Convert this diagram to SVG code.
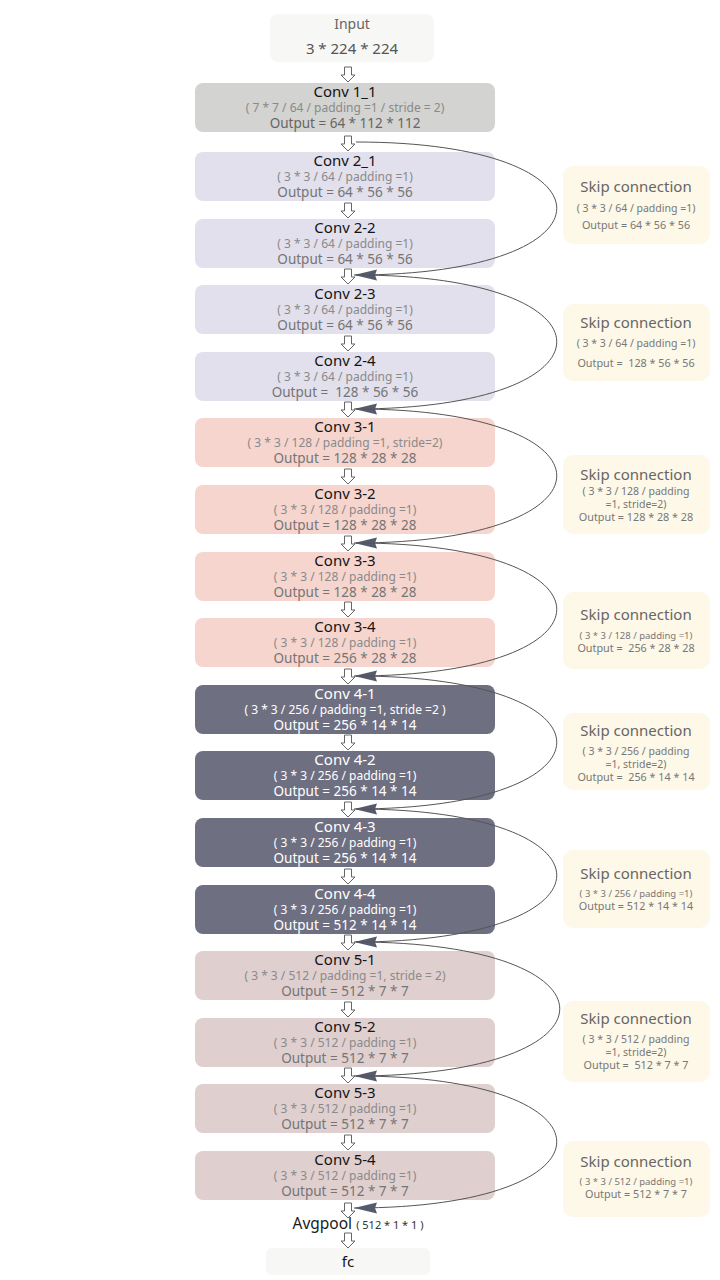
<svg xmlns="http://www.w3.org/2000/svg" width="720" height="1280" viewBox="0 0 720 1280">
<style>
text{font-family:"Noto Sans","Open Sans","DejaVu Sans",sans-serif;text-anchor:middle}
.t{font-size:15px;fill:#141414}
.d{font-size:12px;fill:#8a8a8a}
.o{font-size:13.5px;fill:#757575}
.dk .t,.dk .d,.dk .o{fill:#ffffff}
.c1{fill:#d3d3d1}.c2{fill:#e1e0ec}.c3{fill:#f5d5ce}.c4{fill:#6f6f82}.c5{fill:#e0cfcf}
.lt{fill:#f7f7f5}
.sk{fill:#fdf8e8}
.st{font-size:15px;fill:#666}
.sd{font-size:10.5px;fill:#777}
.ss{font-size:9.5px;fill:#777}
.so{font-size:10.8px;fill:#777}
.cv{fill:none;stroke:#555;stroke-width:1}
.ar{fill:#fff;stroke:#666;stroke-width:1}
</style>
<defs>
<marker id="ah" markerUnits="userSpaceOnUse" markerWidth="28" markerHeight="16" refX="25" refY="8" orient="auto">
<path d="M25,8 L2,2.5 L4,8 L2,13.5 z" fill="#555a6c"/>
</marker>
<path id="da" d="M-3.5,0 h7 v8 h3.5 l-7,7 l-7,-7 h3.5 z"/>
</defs>

<g id="input"><rect class="lt" x="270" y="14" width="164" height="48" rx="8"/>
<text x="352" y="29" style="font-size:14px;fill:#666">Input</text>
<text x="352" y="54" style="font-size:15px;fill:#555">3 * 224 * 224</text></g>

<g id="conv1_1"><rect class="c1" x="195" y="83" width="300" height="49" rx="8"/>
<text class="t" x="345" y="97">Conv 1_1</text>
<text class="d" x="345" y="112">( 7 * 7 / 64 / padding =1 / stride = 2)</text>
<text class="o" x="345" y="128" style="fill:#666">Output = 64 * 112 * 112</text></g>

<g id="conv2_1"><rect class="c2" x="195" y="152" width="300" height="49" rx="8"/>
<text class="t" x="345" y="166">Conv 2_1</text>
<text class="d" x="345" y="181">( 3 * 3 / 64 / padding =1)</text>
<text class="o" x="345" y="197">Output = 64 * 56 * 56</text></g>

<g id="conv2_2"><rect class="c2" x="195" y="219" width="300" height="49" rx="8"/>
<text class="t" x="345" y="233">Conv 2-2</text>
<text class="d" x="345" y="248">( 3 * 3 / 64 / padding =1)</text>
<text class="o" x="345" y="264">Output = 64 * 56 * 56</text></g>

<g id="conv2_3"><rect class="c2" x="195" y="285" width="300" height="49" rx="8"/>
<text class="t" x="345" y="299">Conv 2-3</text>
<text class="d" x="345" y="314">( 3 * 3 / 64 / padding =1)</text>
<text class="o" x="345" y="330">Output = 64 * 56 * 56</text></g>

<g id="conv2_4"><rect class="c2" x="195" y="352" width="300" height="49" rx="8"/>
<text class="t" x="345" y="366">Conv 2-4</text>
<text class="d" x="345" y="381">( 3 * 3 / 64 / padding =1)</text>
<text class="o" x="345" y="397" xml:space="preserve">Output =  128 * 56 * 56</text></g>

<g id="conv3_1"><rect class="c3" x="195" y="418" width="300" height="49" rx="8"/>
<text class="t" x="345" y="432">Conv 3-1</text>
<text class="d" x="345" y="447">( 3 * 3 / 128 / padding =1, stride=2)</text>
<text class="o" x="345" y="463">Output = 128 * 28 * 28</text></g>

<g id="conv3_2"><rect class="c3" x="195" y="485" width="300" height="49" rx="8"/>
<text class="t" x="345" y="499">Conv 3-2</text>
<text class="d" x="345" y="514">( 3 * 3 / 128 / padding =1)</text>
<text class="o" x="345" y="530">Output = 128 * 28 * 28</text></g>

<g id="conv3_3"><rect class="c3" x="195" y="552" width="300" height="49" rx="8"/>
<text class="t" x="345" y="566">Conv 3-3</text>
<text class="d" x="345" y="581">( 3 * 3 / 128 / padding =1)</text>
<text class="o" x="345" y="597">Output = 128 * 28 * 28</text></g>

<g id="conv3_4"><rect class="c3" x="195" y="618" width="300" height="49" rx="8"/>
<text class="t" x="345" y="632">Conv 3-4</text>
<text class="d" x="345" y="647">( 3 * 3 / 128 / padding =1)</text>
<text class="o" x="345" y="663">Output = 256 * 28 * 28</text></g>

<g id="conv4_1" class="dk"><rect class="c4" x="195" y="685" width="300" height="49" rx="8"/>
<text class="t" x="345" y="699">Conv 4-1</text>
<text class="d" x="345" y="714">( 3 * 3 / 256 / padding =1, stride =2 )</text>
<text class="o" x="345" y="730">Output = 256 * 14 * 14</text></g>

<g id="conv4_2" class="dk"><rect class="c4" x="195" y="751" width="300" height="49" rx="8"/>
<text class="t" x="345" y="765">Conv 4-2</text>
<text class="d" x="345" y="780">( 3 * 3 / 256 / padding =1)</text>
<text class="o" x="345" y="796">Output = 256 * 14 * 14</text></g>

<g id="conv4_3" class="dk"><rect class="c4" x="195" y="818" width="300" height="49" rx="8"/>
<text class="t" x="345" y="832">Conv 4-3</text>
<text class="d" x="345" y="847">( 3 * 3 / 256 / padding =1)</text>
<text class="o" x="345" y="863">Output = 256 * 14 * 14</text></g>

<g id="conv4_4" class="dk"><rect class="c4" x="195" y="885" width="300" height="49" rx="8"/>
<text class="t" x="345" y="899">Conv 4-4</text>
<text class="d" x="345" y="914">( 3 * 3 / 256 / padding =1)</text>
<text class="o" x="345" y="930">Output = 512 * 14 * 14</text></g>

<g id="conv5_1"><rect class="c5" x="195" y="951" width="300" height="49" rx="8"/>
<text class="t" x="345" y="965">Conv 5-1</text>
<text class="d" x="345" y="980">( 3 * 3 / 512 / padding =1, stride = 2)</text>
<text class="o" x="345" y="996">Output = 512 * 7 * 7</text></g>

<g id="conv5_2"><rect class="c5" x="195" y="1018" width="300" height="49" rx="8"/>
<text class="t" x="345" y="1032">Conv 5-2</text>
<text class="d" x="345" y="1047">( 3 * 3 / 512 / padding =1)</text>
<text class="o" x="345" y="1063">Output = 512 * 7 * 7</text></g>

<g id="conv5_3"><rect class="c5" x="195" y="1084" width="300" height="49" rx="8"/>
<text class="t" x="345" y="1098">Conv 5-3</text>
<text class="d" x="345" y="1113">( 3 * 3 / 512 / padding =1)</text>
<text class="o" x="345" y="1129">Output = 512 * 7 * 7</text></g>

<g id="conv5_4"><rect class="c5" x="195" y="1151" width="300" height="49" rx="8"/>
<text class="t" x="345" y="1165">Conv 5-4</text>
<text class="d" x="345" y="1180">( 3 * 3 / 512 / padding =1)</text>
<text class="o" x="345" y="1196">Output = 512 * 7 * 7</text></g>

<g id="avgpool"><text x="358" y="1229" style="font-size:15.5px;fill:#1a1a1a">Avgpool <tspan style="font-size:11px;fill:#333">( 512 * 1 * 1 )</tspan></text></g>

<g id="fc"><rect class="lt" x="266" y="1248" width="164" height="27" rx="6"/>
<text class="t" x="348" y="1267">fc</text></g>

<g id="skip1"><rect class="sk" x="563" y="166" width="147" height="78" rx="10"/>
<text class="st" x="636" y="192">Skip connection</text>
<text class="sd" x="636" y="212">( 3 * 3 / 64 / padding =1)</text>
<text class="so" x="636" y="229">Output = 64 * 56 * 56</text></g>

<g id="skip2"><rect class="sk" x="563" y="304" width="147" height="77" rx="10"/>
<text class="st" x="636" y="328">Skip connection</text>
<text class="sd" x="636" y="347">( 3 * 3 / 64 / padding =1)</text>
<text class="so" x="636" y="367" xml:space="preserve">Output =  128 * 56 * 56</text></g>

<g id="skip3"><rect class="sk" x="563" y="455" width="147" height="79" rx="10"/>
<text class="st" x="636" y="480">Skip connection</text>
<text class="sd" x="636" y="495">( 3 * 3 / 128 / padding</text>
<text class="sd" x="636" y="508">=1, stride=2)</text>
<text class="so" x="636" y="521">Output = 128 * 28 * 28</text></g>

<g id="skip4"><rect class="sk" x="563" y="592" width="147" height="77" rx="10"/>
<text class="st" x="636" y="620">Skip connection</text>
<text class="ss" x="636" y="639">( 3 * 3 / 128 / padding =1)</text>
<text class="so" x="636" y="652" xml:space="preserve">Output =  256 * 28 * 28</text></g>

<g id="skip5"><rect class="sk" x="563" y="713" width="147" height="77" rx="10"/>
<text class="st" x="636" y="736">Skip connection</text>
<text class="sd" x="636" y="755">( 3 * 3 / 256 / padding</text>
<text class="sd" x="636" y="768">=1, stride=2)</text>
<text class="so" x="636" y="781" xml:space="preserve">Output =  256 * 14 * 14</text></g>

<g id="skip6"><rect class="sk" x="563" y="850" width="147" height="78" rx="10"/>
<text class="st" x="636" y="879">Skip connection</text>
<text class="ss" x="636" y="897">( 3 * 3 / 256 / padding =1)</text>
<text class="so" x="636" y="910">Output = 512 * 14 * 14</text></g>

<g id="skip7"><rect class="sk" x="563" y="1001" width="147" height="81" rx="10"/>
<text class="st" x="636" y="1024">Skip connection</text>
<text class="sd" x="636" y="1043">( 3 * 3 / 512 / padding</text>
<text class="sd" x="636" y="1056">=1, stride=2)</text>
<text class="so" x="636" y="1069" xml:space="preserve">Output =  512 * 7 * 7</text></g>

<g id="skip8"><rect class="sk" x="563" y="1141" width="147" height="76" rx="10"/>
<text class="st" x="636" y="1167">Skip connection</text>
<text class="ss" x="636" y="1185">( 3 * 3 / 512 / padding =1)</text>
<text class="so" x="636" y="1198">Output = 512 * 7 * 7</text></g>

<g id="connectors">
<use href="#da" class="ar" x="348" y="67"/>
<use href="#da" class="ar" x="348" y="136"/>
<use href="#da" class="ar" x="348" y="203"/>
<use href="#da" class="ar" x="348" y="269"/>
<use href="#da" class="ar" x="348" y="336"/>
<use href="#da" class="ar" x="348" y="402"/>
<use href="#da" class="ar" x="348" y="469"/>
<use href="#da" class="ar" x="348" y="536"/>
<use href="#da" class="ar" x="348" y="602"/>
<use href="#da" class="ar" x="348" y="669"/>
<use href="#da" class="ar" x="348" y="735"/>
<use href="#da" class="ar" x="348" y="802"/>
<use href="#da" class="ar" x="348" y="869"/>
<use href="#da" class="ar" x="348" y="935"/>
<use href="#da" class="ar" x="348" y="1002"/>
<use href="#da" class="ar" x="348" y="1068"/>
<use href="#da" class="ar" x="348" y="1135"/>
<use href="#da" class="ar" x="348" y="1203"/>
<use href="#da" class="ar" x="348" y="1233"/>
<path class="cv" marker-end="url(#ah)" d="M356,142 C624,142 624,275 354,275"/>
<path class="cv" marker-end="url(#ah)" d="M356,275 C624,275 624,409 354,409"/>
<path class="cv" marker-end="url(#ah)" d="M356,409 C624,409 624,543 354,543"/>
<path class="cv" marker-end="url(#ah)" d="M356,543 C624,543 624,676 354,676"/>
<path class="cv" marker-end="url(#ah)" d="M356,676 C624,676 624,809 354,809"/>
<path class="cv" marker-end="url(#ah)" d="M356,809 C624,809 624,942 354,942"/>
<path class="cv" marker-end="url(#ah)" d="M356,942 C628,942 628,1076 354,1076"/>
<path class="cv" marker-end="url(#ah)" d="M356,1076 C624,1076 624,1208 354,1208"/>
</g>
</svg>
